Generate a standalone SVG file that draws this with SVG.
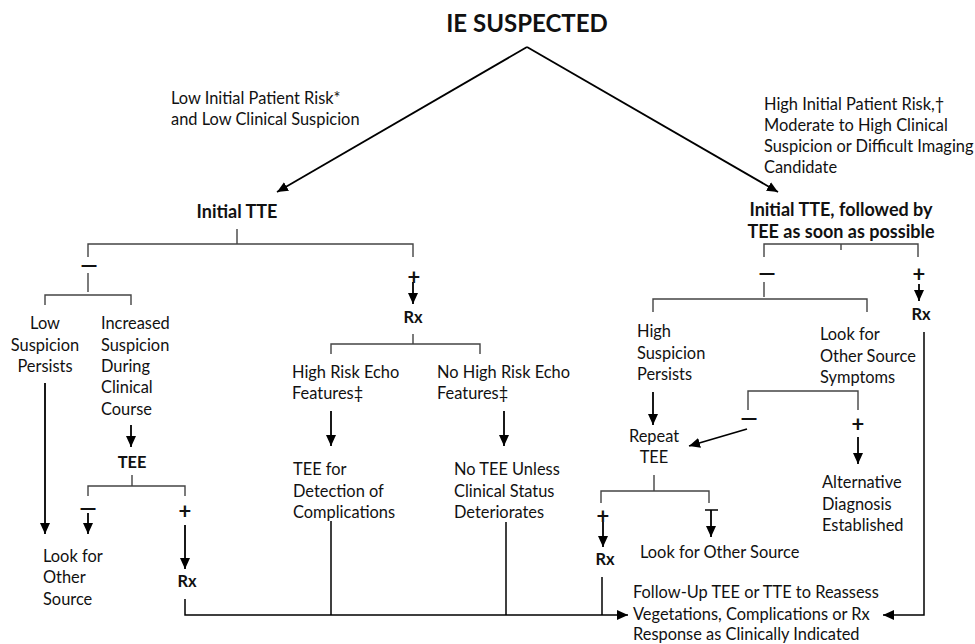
<svg xmlns="http://www.w3.org/2000/svg" width="975" height="644" viewBox="0 0 975 644">
<style>
text{font-family:Lato,"Liberation Sans",sans-serif;font-size:16.4px;fill:#111}
.b{font-weight:bold}
.h{font-size:18px;font-weight:bold}
.t{font-size:24px;font-weight:bold}
.c{text-anchor:middle}
.sign{font-size:22px;font-weight:bold;text-anchor:middle}
.br{fill:none;stroke:#444;stroke-width:1.4}
.ar{fill:none;stroke:#000;stroke-width:1.8;marker-end:url(#ah)}
.ln{fill:none;stroke:#000;stroke-width:1.5}
</style>
<defs>
<marker id="ah" markerUnits="userSpaceOnUse" markerWidth="12" markerHeight="12" viewBox="0 0 12 12" refX="11" refY="6" orient="auto">
<path d="M0,1 L11,6 L0,11 Z" fill="#000"/>
</marker>
</defs>
<rect width="975" height="644" fill="#fff"/>

<g id="connectors">
<line class="ar" x1="527" y1="47" x2="277" y2="192"/>
<line class="ar" x1="527" y1="47" x2="778" y2="192"/>
<path class="br" d="M237,229 V244 M88,257 V244 H413 V257"/>
<line class="br" x1="88" y1="273" x2="88" y2="292"/>
<path class="br" d="M45,305 V295 H131 V305"/>
<line class="ar" x1="413" y1="282" x2="413" y2="304"/>
<path class="br" d="M413,334 V344 M331,354 V344 H480 V354"/>
<line class="ar" x1="45" y1="383" x2="45" y2="534"/>
<line class="ar" x1="131" y1="425" x2="131" y2="447"/>
<path class="br" d="M132,475 V486 M88,496 V486 H185 V496"/>
<line class="ar" x1="88" y1="513" x2="88" y2="534"/>
<line class="ar" x1="185" y1="525" x2="185" y2="569"/>
<line class="ar" x1="331" y1="411" x2="331" y2="446"/>
<line class="ar" x1="504" y1="411" x2="504" y2="446"/>
<path class="ln" d="M185,599 V615 H628" marker-end="url(#ah)"/>
<line class="ln" x1="331" y1="521" x2="331" y2="615"/>
<line class="ln" x1="506" y1="522" x2="506" y2="615"/>
<line class="ln" x1="602" y1="577" x2="602" y2="615"/>
<path class="br" d="M841,244 V250 M764,257 V244 H918 V257"/>
<line class="br" x1="764" y1="282" x2="764" y2="297"/>
<path class="br" d="M653,312 V299 H867 V312"/>
<line class="ar" x1="919" y1="284" x2="919" y2="301"/>
<path class="ln" d="M924,332 V615 H883" marker-end="url(#ah)"/>
<line class="ar" x1="653" y1="392" x2="653" y2="425"/>
<path class="br" d="M748,410 V391 H858 V410"/>
<line class="ar" x1="747" y1="429" x2="689" y2="446"/>
<line class="ar" x1="858" y1="437" x2="858" y2="464"/>
<path class="br" d="M654,475 V491 M601,503 V491 H709 V503"/>
<line class="ar" x1="603" y1="522" x2="603" y2="547"/>
<line class="ln" x1="705" y1="510" x2="718" y2="510"/>
<line class="ar" x1="711" y1="510" x2="711" y2="537"/>
</g>

<g id="title"><text class="t c" x="527" y="32">IE SUSPECTED</text></g>
<g id="label-low"><text x="171" y="104">Low Initial Patient Risk*</text><text x="171" y="125">and Low Clinical Suspicion</text></g>
<g id="label-high"><text x="764" y="110">High Initial Patient Risk,†</text><text x="764" y="131">Moderate to High Clinical</text><text x="764" y="152">Suspicion or Difficult Imaging</text><text x="764" y="173">Candidate</text></g>

<g id="initial-tte"><text class="h c" x="237" y="218">Initial TTE</text></g>
<g id="minus1"><text class="sign" x="89" y="273">—</text></g>
<g id="plus1"><text class="sign" x="414" y="285">+</text></g>
<g id="rx1"><text class="b c" x="413" y="323">Rx</text></g>
<g id="low-suspicion"><text class="c" x="45" y="329">Low</text><text class="c" x="45" y="351">Suspicion</text><text class="c" x="45" y="372">Persists</text></g>
<g id="increased-suspicion"><text x="101" y="329">Increased</text><text x="101" y="351">Suspicion</text><text x="101" y="372">During</text><text x="101" y="393">Clinical</text><text x="101" y="415">Course</text></g>
<g id="tee1"><text class="b c" x="132" y="468">TEE</text></g>
<g id="minus2"><text class="sign" x="88" y="516">—</text></g>
<g id="plus2"><text class="sign" x="185" y="519">+</text></g>
<g id="rx2"><text class="b c" x="187" y="587">Rx</text></g>
<g id="look-other-1"><text x="43" y="562">Look for</text><text x="43" y="583">Other</text><text x="43" y="605">Source</text></g>
<g id="high-risk-echo"><text x="292" y="378">High Risk Echo</text><text x="292" y="399">Features‡</text></g>
<g id="tee-detection"><text x="293" y="475">TEE for</text><text x="293" y="497">Detection of</text><text x="293" y="518">Complications</text></g>
<g id="no-high-risk"><text x="437" y="378">No High Risk Echo</text><text x="437" y="399">Features‡</text></g>
<g id="no-tee"><text x="454" y="475">No TEE Unless</text><text x="454" y="497">Clinical Status</text><text x="454" y="518">Deteriorates</text></g>

<g id="initial-tte-tee"><text class="h c" x="841" y="216">Initial TTE, followed by</text><text class="h c" x="841" y="238">TEE as soon as possible</text></g>
<g id="minus3"><text class="sign" x="767" y="281">—</text></g>
<g id="plus3"><text class="sign" x="919" y="282">+</text></g>
<g id="rx3"><text class="b c" x="921" y="320">Rx</text></g>
<g id="high-suspicion"><text x="637" y="337">High</text><text x="637" y="359">Suspicion</text><text x="637" y="380">Persists</text></g>
<g id="look-symptoms"><text x="820" y="340">Look for</text><text x="820" y="362">Other Source</text><text x="820" y="383">Symptoms</text></g>
<g id="repeat-tee"><text class="c" x="654" y="442">Repeat</text><text class="c" x="654" y="463">TEE</text></g>
<g id="minus4"><text class="sign" x="749" y="426">—</text></g>
<g id="plus4"><text class="sign" x="858" y="432">+</text></g>
<g id="alt-diagnosis"><text x="822" y="488">Alternative</text><text x="822" y="510">Diagnosis</text><text x="822" y="531">Established</text></g>
<g id="plus5"><text class="sign" x="603" y="524">+</text></g>
<g id="rx4"><text class="b c" x="605" y="565">Rx</text></g>
<g id="look-other-2"><text x="640" y="558">Look for Other Source</text></g>
<g id="follow-up"><text x="633" y="598">Follow-Up TEE or TTE to Reassess</text><text x="633" y="620">Vegetations, Complications or Rx</text><text x="633" y="640">Response as Clinically Indicated</text></g>
</svg>
